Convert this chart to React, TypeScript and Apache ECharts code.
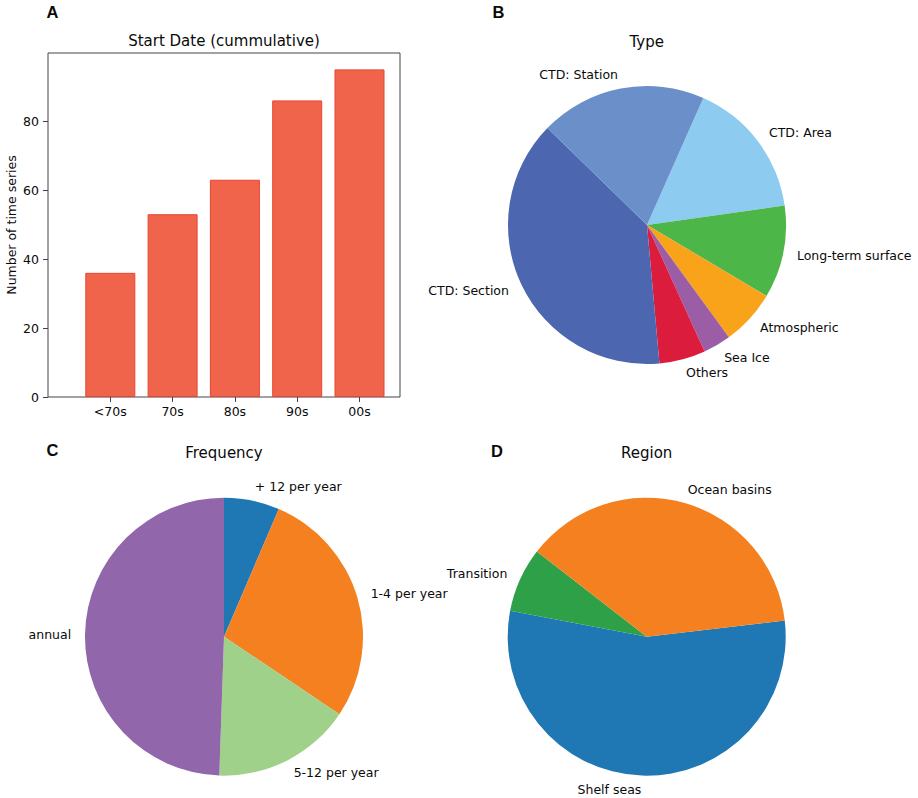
import React, { useEffect, useRef } from "react";
import * as echarts from "echarts";

// Panel A: start date (cumulative)
const startCategories = ["<70s", "70s", "80s", "90s", "00s"];
const startCounts = [36, 53, 63, 86, 95];
const yTickValues = [0, 20, 40, 60, 80];

// Panel B: type
const typeNames = ["CTD: Area", "Long-term surface", "Atmospheric", "Sea Ice", "Others", "CTD: Section", "CTD: Station"];
const typeCounts = [15, 10, 6, 3, 5, 36, 18];
const typeColors = ["#8ecbf0", "#4db648", "#f9a31b", "#9b5ea6", "#db1c3d", "#4c67b0", "#6b8fc9"];

// Panel C: frequency
const freqNames = ["+ 12 per year", "1-4 per year", "5-12 per year", "annual"];
const freqCounts = [6, 26, 15, 46];
const freqColors = ["#1f77b4", "#f58020", "#9fd18b", "#9166aa"];

// Panel D: region
const regionNames = ["Shelf seas", "Transition", "Ocean basins"];
const regionCounts = [51, 7, 35];
const regionColors = ["#1f77b4", "#2ea148", "#f58020"];

const FONT = "'DejaVu Sans', sans-serif";
const TXT = "#0a0a0a";
const AXIS = "#444";
const R = 139;

function pieSeries(names: string[], counts: number[], colors: string[], cx: number, cy: number, startAngle: number) {
  return {
    type: "pie",
    left: 0,
    top: 0,
    width: 3000,
    height: 3000,
    center: [cx, cy],
    radius: [0, R],
    startAngle,
    clockwise: true,
    avoidLabelOverlap: false,
    silent: true,
    emphasis: { disabled: true },
    itemStyle: { borderWidth: 0 },
    label: {
      show: true,
      position: "outside",
      alignTo: "none",
      distanceToLabelLine: 0,
      bleedMargin: 0,
      fontFamily: FONT,
      fontSize: 12.5,
      color: TXT,
    },
    labelLine: { show: false, length: R * 0.1, length2: 0 },
    data: names.map((n, i) => ({ name: n, value: counts[i], itemStyle: { color: colors[i] } })),
  };
}

function txt(text: string, x: number, y: number, size: number, bold = false, family = FONT) {
  return {
    type: "text",
    x,
    y,
    silent: true,
    style: {
      text,
      fill: TXT,
      font: `${bold ? "bold " : ""}${size}px ${family}`,
      align: "center",
      verticalAlign: "middle",
      textAlign: "center",
      textVerticalAlign: "middle",
    },
  };
}

export default function App() {
  const ref = useRef<HTMLDivElement>(null);
  useEffect(() => {
    document.body.style.margin = "0";
    const chart = echarts.init(ref.current!, null, { renderer: "svg" });
    const letterFont = "'Liberation Sans', Arial, sans-serif";
    chart.setOption({
      animation: false,
      backgroundColor: "#fff",
      grid: {
        left: 48,
        top: 53,
        width: 352,
        height: 344,
        show: true,
        borderColor: AXIS,
        borderWidth: 1,
        backgroundColor: "transparent",
        outerBoundsMode: "none",
        containLabel: false,
      },
      xAxis: {
        type: "value",
        min: 0,
        max: 5.65,
        axisLine: { show: false },
        splitLine: { show: false },
        axisTick: { show: true, length: 5, customValues: [1, 2, 3, 4, 5], lineStyle: { color: AXIS } },
        axisLabel: {
          customValues: [1, 2, 3, 4, 5],
          formatter: (v: number) => startCategories[Math.round(v) - 1] ?? "",
          margin: 8,
          fontFamily: FONT,
          fontSize: 12.5,
          color: TXT,
        },
      },
      yAxis: {
        type: "value",
        min: 0,
        max: 99.75,
        name: "Number of time series",
        nameLocation: "middle",
        nameGap: 30,
        nameMoveOverlap: false,
        nameTextStyle: { fontFamily: FONT, fontSize: 12.5, color: TXT },
        axisLine: { show: false },
        splitLine: { show: false },
        axisTick: { show: true, length: 5, customValues: yTickValues, lineStyle: { color: AXIS } },
        axisLabel: { customValues: yTickValues, margin: 9, fontFamily: FONT, fontSize: 12.5, color: TXT },
      },
      series: [
        {
          type: "bar",
          silent: true,
          barWidth: 50,
          itemStyle: { color: "#f0644c", borderColor: "#e8452f", borderWidth: 1 },
          data: startCategories.map((c, i) => [i + 1, startCounts[i]]),
        },
        pieSeries(typeNames, typeCounts, typeColors, 647, 225, 66.1),
        pieSeries(freqNames, freqCounts, freqColors, 224, 636.7, 90),
        pieSeries(regionNames, regionCounts, regionColors, 646.7, 636.7, 6.7),
      ],
      graphic: [
        txt("A", 52.5, 12, 16.5, true, letterFont),
        txt("B", 498.5, 11.5, 16.5, true, letterFont),
        txt("C", 52.5, 450, 16.5, true, letterFont),
        txt("D", 497, 450.5, 16.5, true, letterFont),
        txt("Start Date (cummulative)", 224, 41, 15),
        txt("Type", 646.7, 41.5, 15),
        txt("Frequency", 224, 453, 15),
        txt("Region", 646.7, 452.5, 15),
      ],
    });
    return () => chart.dispose();
  }, []);
  return <div ref={ref} style={{ width: 918, height: 798 }} />;
}
